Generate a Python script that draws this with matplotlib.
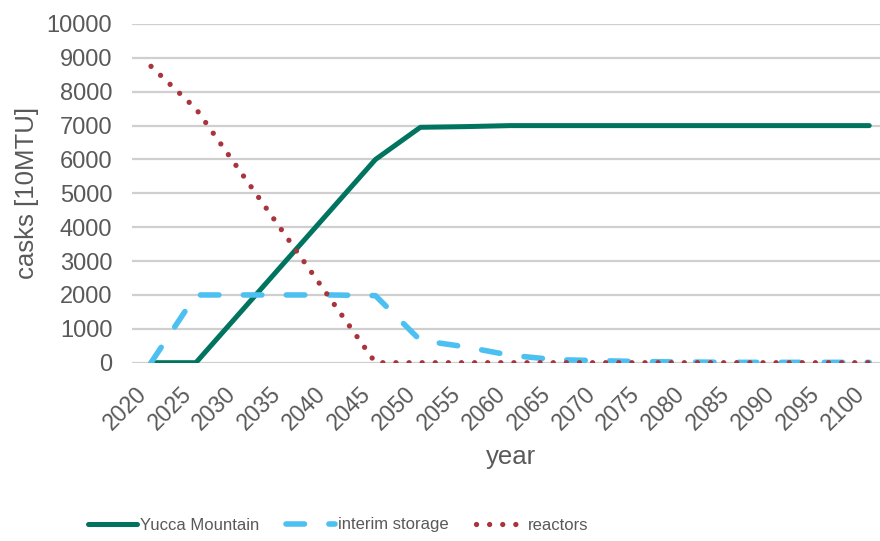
import matplotlib
matplotlib.use("Agg")
import matplotlib.pyplot as plt
import matplotlib.transforms as mtransforms
from matplotlib import font_manager

years = [str(y) for y in range(2020, 2101, 5)]
yucca = [0, 0, 1500, 3000, 4500, 6000, 6950, 6970, 7000, 7000, 7000, 7000, 7000, 7000, 7000, 7000, 7000]
interim = [0, 2000, 2000, 2000, 2000, 1980, 660, 470, 220, 90, 60, 30, 20, 10, 10, 10, 10]
reactors = [8750, 7500, 5625, 3750, 1875, 0, 0, 0, 0, 0, 0, 0, 0, 0, 0, 0, 0]
yticks = list(range(0, 10001, 1000))

plt.rcParams['font.family'] = ['Liberation Sans', 'DejaVu Sans']
txt = '#595959'

names = {f.name for f in font_manager.fontManager.ttflist}
narrow = 'Liberation Sans Narrow' if 'Liberation Sans Narrow' in names else 'Liberation Sans'

fig = plt.figure(figsize=(8.8, 5.41), dpi=100)
ax = fig.add_axes([131.7/880, 1-362.7/541, 1-131.7/880, (362.7-24)/541])

x = list(range(len(years)))
l1, = ax.plot(x, yucca, color='#00745F', lw=3.6, solid_capstyle='round', solid_joinstyle='round', label='Yucca Mountain', zorder=3)
lw2 = 4.0
l2, = ax.plot(x, interim, color='#4DC0F2', lw=lw2, ls=(0, (13.3/lw2, 17.6/lw2)), dash_capstyle='round', label='interim storage', zorder=4)
lw3 = 3.8
l3, = ax.plot(x, reactors, color='#A9343B', lw=lw3, ls=(0, (0.01, 9.4/lw3)), dash_capstyle='round', label='reactors', zorder=5)

ax.set_xlim(-0.43, 16.24)
ax.set_ylim(0, 10000)
ax.set_yticks(yticks)
ax.set_yticklabels([str(v) for v in yticks])
ax.set_xticks(x)
ax.set_xticklabels(years, rotation=45, ha='right', va='top')
off = mtransforms.ScaledTranslation(11/100, 0, fig.dpi_scale_trans)
for lab in ax.get_xticklabels():
    lab.set_transform(lab.get_transform() + off)
ax.tick_params(axis='y', length=0, labelsize=17, colors=txt, pad=14)
ax.tick_params(axis='x', length=0, labelsize=16.5, colors=txt, pad=14)
for s in ax.spines.values():
    s.set_visible(False)
ax.yaxis.grid(True, color='#CFCFCF', lw=1.6)
ax.set_axisbelow(True)

fig.text(27/880, 1-193/541, 'casks [10MTU]', fontsize=18.5, color=txt, ha='center', va='center', rotation=90)
fig.text(511/880, 1-457/541, 'year', fontsize=18.5, color=txt, ha='center', va='center')

leg = fig.legend(handles=[l1, l2, l3], loc='center left', bbox_to_anchor=(88/880, 1-525/541), ncol=3,
           frameon=False, prop={'family': narrow, 'size': 12}, handlelength=2.95, handletextpad=0.18,
           columnspacing=1.6, labelcolor=txt, borderpad=0, borderaxespad=0)

fig.savefig('out.png', dpi=100)
